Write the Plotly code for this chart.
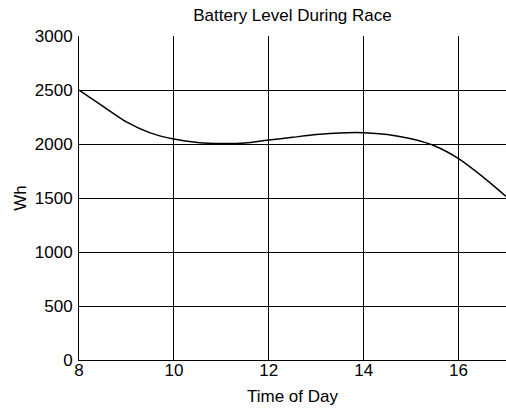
import plotly.graph_objects as go

hours = [8, 8.5, 9, 9.5, 10, 10.5, 11, 11.5, 12, 12.5, 13, 13.5, 14, 14.5, 15, 15.5, 16, 16.5, 17]
battery_wh = [2500, 2350, 2205, 2103, 2046, 2015, 2005, 2010, 2037, 2062, 2087, 2103, 2105, 2088, 2048, 1982, 1865, 1700, 1515]

x_ticks = [8, 10, 12, 14, 16]
y_ticks = [0, 500, 1000, 1500, 2000, 2500, 3000]

fig = go.Figure()
fig.add_trace(go.Scatter(x=hours, y=battery_wh, mode="lines",
                         line=dict(color="black", width=1.5, shape="spline", smoothing=0.6),
                         showlegend=False, hoverinfo="skip"))

font = "Liberation Sans, Arial, sans-serif"
fig.update_layout(
    width=506, height=408,
    margin=dict(l=79, r=0, t=36, b=48, autoexpand=False),
    paper_bgcolor="white", plot_bgcolor="white",
    font=dict(family=font, color="black", size=17),
    title=dict(text="Battery Level During Race", x=0.5, xref="paper", xanchor="center",
               y=1 - 15 / 408, yref="container", yanchor="middle",
               font=dict(size=17, family=font, color="black")),
)
fig.update_xaxes(range=[8, 17], tickvals=x_ticks, showgrid=True, gridcolor="black", gridwidth=1,
                 showline=True, linecolor="black", linewidth=1, zeroline=False, automargin=False,
                 ticks="", ticklabelstandoff=-5,
                 tickfont=dict(size=17), title=dict(text="Time of Day", font=dict(size=17), standoff=10))
fig.update_yaxes(range=[0, 3000], tickvals=y_ticks, showgrid=True, gridcolor="black", gridwidth=1,
                 showline=True, linecolor="black", linewidth=1, zeroline=False, automargin=False,
                 ticks="outside", ticklen=2, tickcolor="rgba(0,0,0,0)",
                 tickfont=dict(size=17), title=dict(text="Wh", font=dict(size=17), standoff=3))

fig.write_html("out.html", config={"displayModeBar": False, "staticPlot": True},
               post_script="document.body.style.margin='0';document.body.style.overflow='hidden';")
